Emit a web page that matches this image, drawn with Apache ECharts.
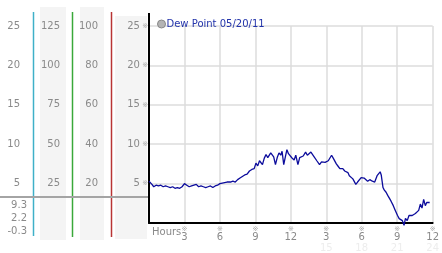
<!DOCTYPE html>
<html>
<head>
<meta charset="utf-8">
<script src="https://cdn.jsdelivr.net/npm/echarts@6/dist/echarts.min.js"></script>
<style>
  html, body { margin: 0; padding: 0; background: #fff; }
  #chart { width: 442px; height: 253px; }
</style>
</head>
<body>
<div id="chart"></div>
<script>
// hours after start, dew point value
var hours = [0.0, 0.1, 0.25, 0.4, 0.6, 0.8, 1.0, 1.2, 1.4, 1.6, 1.8, 2.0, 2.2, 2.4, 2.6, 2.8,
  3.0, 3.2, 3.4, 3.6, 3.8, 4.0, 4.2, 4.4, 4.6, 4.8, 5.0, 5.2, 5.4, 5.6, 5.8, 6.0,
  6.3, 6.6, 6.9, 7.1, 7.3, 7.5, 7.7, 7.9, 8.1, 8.3, 8.5, 8.7, 8.9, 9.05, 9.2, 9.35,
  9.46, 9.6, 9.75, 9.9, 10.05, 10.15, 10.3, 10.4, 10.55, 10.7, 10.85, 11.0, 11.15, 11.26,
  11.4, 11.55, 11.67, 11.8, 11.95, 12.1, 12.28, 12.42, 12.6, 12.75, 12.9, 13.05, 13.25, 13.4,
  13.5, 13.7, 13.93, 14.2, 14.43, 14.6, 14.75, 14.9, 15.05, 15.17, 15.3, 15.45, 15.6, 15.7,
  15.85, 16.0, 16.15, 16.28, 16.4, 16.56, 16.7, 16.83, 16.95, 17.1, 17.25, 17.4, 17.5, 17.65,
  17.8, 17.95, 18.07, 18.2, 18.35, 18.5, 18.68, 18.9, 19.1, 19.3, 19.45, 19.56, 19.65, 19.8,
  19.9, 20.06, 20.2, 20.28, 20.47, 20.67, 20.84, 21.03, 21.17, 21.3, 21.44, 21.58, 21.7, 21.85,
  22.0, 22.13, 22.27, 22.4, 22.54, 22.7, 22.82, 22.96, 23.1, 23.24, 23.38, 23.5, 23.65, 23.75];
var dewPoint = [5.3, 5.2, 4.9, 4.6, 4.8, 4.7, 4.8, 4.6, 4.7, 4.6, 4.5, 4.6, 4.4, 4.5, 4.4, 4.6,
  5.0, 4.8, 4.6, 4.7, 4.8, 4.9, 4.6, 4.7, 4.6, 4.5, 4.6, 4.7, 4.5, 4.7, 4.8, 5.0,
  5.1, 5.2, 5.2, 5.3, 5.2, 5.5, 5.7, 5.9, 6.1, 6.2, 6.6, 6.8, 6.9, 7.6, 7.25, 7.9,
  8.0, 7.4, 8.2, 8.7, 8.3, 8.5, 8.9, 8.75, 8.4, 7.4, 8.3, 8.9, 8.6, 9.1,
  7.4, 8.5, 9.3, 8.8, 8.9, 8.25, 8.0, 8.6, 7.4, 8.3, 8.1, 8.5, 9.0, 8.6,
  8.7, 9.0, 8.5, 7.9, 7.4, 7.75, 7.6, 7.7, 7.6, 7.9, 7.7, 8.6, 8.2, 8.0,
  7.5, 7.2, 6.9, 6.8, 6.9, 6.6, 6.5, 6.4, 6.0, 5.8, 5.6, 5.5, 4.9, 5.2,
  5.3, 5.75, 5.6, 5.7, 5.5, 5.3, 5.5, 5.3, 5.2, 6.0, 5.9, 6.5, 6.1, 4.5,
  4.2, 3.9, 3.5, 3.25, 2.8, 2.2, 1.6, 0.95, 0.55, 0.8, 0.3, -0.3, 0.6, 0.3,
  0.95, 1.1, 0.95, 1.0, 1.2, 1.3, 1.6, 2.4, 1.9, 3.0, 2.2, 2.6, 2.4, 2.6];

// summary values shown under the left scales
var maxVal = '9.3';
var curVal = '2.2';
var minVal = '-0.3';

// x ticks: upper row and faint lower row
var xTickTop = ['3', '6', '9', '12', '3', '6', '9', '12'];
var xTickBottom = ['', '', '', '', '15', '18', '21', '24'];

var seriesName = 'Dew Point 05/20/11';

var dom = document.getElementById('chart');
var myChart = echarts.init(dom);

var pts = [];
for (var i = 0; i < hours.length; i++) {
    pts.push([hours[i], dewPoint[i]]);
}

var font = 'DejaVu Sans';
var grey = '#8a8a8a';

function sideAxis(max, interval, offset) {
    return {
        type: 'value',
        position: 'left',
        min: 0,
        max: max,
        interval: interval,
        offset: offset,
        axisLine: { show: false },
        axisTick: { show: false },
        splitLine: { show: false },
        axisLabel: {
            showMinLabel: false,
            margin: 0,
            color: grey,
            fontFamily: font,
            fontSize: 10
        }
    };
}

option = {
    animation: false,
    legend: {
        left: 152,
        top: 14,
        itemWidth: 8,
        itemHeight: 8,
        icon: 'circle',
        data: [{
            name: seriesName,
            itemStyle: { color: '#b4b4b4', borderColor: '#888', borderWidth: 1 }
        }],
        textStyle: {
            color: '#2233aa',
            fontFamily: font,
            fontSize: 10,
            padding: [0, 0, 0, -4]
        }
    },
    grid: {
        left: 149,
        right: 3,
        top: 26,
        bottom: 28
    },
    xAxis: {
        type: 'value',
        min: 0,
        max: 24,
        interval: 3,
        axisLine: { lineStyle: { color: '#000', width: 2 } },
        axisTick: { show: false },
        splitLine: { lineStyle: { color: '#dcdcdc', width: 1.5 } },
        axisLabel: {
            showMinLabel: false,
            margin: 3,
            formatter: function (v) {
                var k = Math.round(v / 3) - 1;
                if (k < 0) return '';
                return '{s|※}\n{v|' + xTickTop[k] + '}\n{f|' + xTickBottom[k] + '}';
            },
            rich: {
                s: { fontSize: 7, color: '#aaa', lineHeight: 6, fontFamily: font },
                v: { fontSize: 10, color: grey, lineHeight: 10, fontFamily: font },
                f: { fontSize: 10, color: '#ededed', lineHeight: 12, fontFamily: font }
            }
        }
    },
    yAxis: [
        {
            type: 'value',
            min: 0,
            max: 25,
            interval: 5,
            axisLine: { show: true, lineStyle: { color: '#000', width: 2 } },
            axisTick: { show: false },
            splitLine: { lineStyle: { color: '#dcdcdc', width: 1.5 } },
            axisLabel: {
                showMinLabel: false,
                margin: 1,
                formatter: function (v) {
                    return '{v|' + v + '}{s| ※}';
                },
                rich: {
                    v: { fontSize: 10, color: grey, fontFamily: font },
                    s: { fontSize: 7, color: '#aaa', fontFamily: font }
                }
            }
        },
        sideAxis(100, 20, 51),
        sideAxis(125, 25, 89),
        sideAxis(25, 5, 129)
    ],
    graphic: [
        { type: 'rect', z: -10, shape: { x: 40, y: 7, width: 26, height: 233 }, style: { fill: '#f4f4f4' } },
        { type: 'rect', z: -10, shape: { x: 80, y: 7, width: 24, height: 233 }, style: { fill: '#f4f4f4' } },
        { type: 'rect', z: -10, shape: { x: 115, y: 16, width: 32, height: 223 }, style: { fill: '#f4f4f4' } },
        { type: 'line', z: -5, shape: { x1: 33.5, y1: 12, x2: 33.5, y2: 236 }, style: { stroke: '#3fb0c8', lineWidth: 1.5 } },
        { type: 'line', z: -5, shape: { x1: 72.5, y1: 12, x2: 72.5, y2: 237 }, style: { stroke: '#3aa83a', lineWidth: 1.5 } },
        { type: 'line', z: -5, shape: { x1: 111.5, y1: 12, x2: 111.5, y2: 237 }, style: { stroke: '#b83434', lineWidth: 1.5 } },
        { type: 'line', z: -4, shape: { x1: 0, y1: 197, x2: 148, y2: 197 }, style: { stroke: '#a4a4a4', lineWidth: 2 } },
        { type: 'line', z: 5, shape: { x1: 149, y1: 13, x2: 149, y2: 27 }, style: { stroke: '#000', lineWidth: 2 } },
        { type: 'text', x: 27, y: 205, style: { text: maxVal, align: 'right', verticalAlign: 'middle', fill: grey, font: '10px "DejaVu Sans"' } },
        { type: 'text', x: 27, y: 218, style: { text: curVal, align: 'right', verticalAlign: 'middle', fill: grey, font: '10px "DejaVu Sans"' } },
        { type: 'text', x: 27, y: 231, style: { text: minVal, align: 'right', verticalAlign: 'middle', fill: grey, font: '10px "DejaVu Sans"' } },
        { type: 'text', x: 152, y: 232, style: { text: 'Hours', align: 'left', verticalAlign: 'middle', fill: grey, font: '10px "DejaVu Sans"' } }
    ],
    series: [
        {
            name: seriesName,
            type: 'line',
            data: pts,
            showSymbol: false,
            clip: false,
            lineStyle: { color: '#0c0c9c', width: 1.3 },
            itemStyle: { color: '#0c0c9c' }
        }
    ]
};

myChart.setOption(option, true);
</script>
</body>
</html>
